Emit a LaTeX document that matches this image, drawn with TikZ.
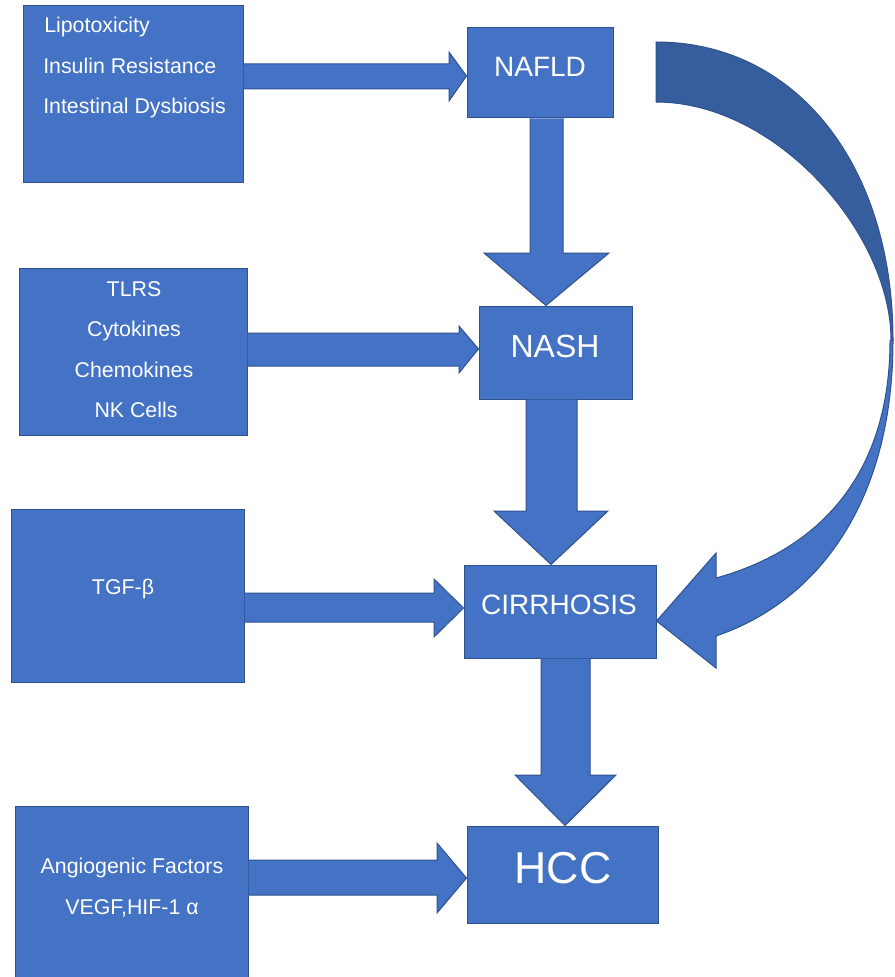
\documentclass[tikz,border=0pt]{standalone}
\usepackage{fontspec}
\setmainfont{Liberation Sans}
\usetikzlibrary{fit}
\definecolor{boxblue}{HTML}{4472C4}
\definecolor{edgeblue}{HTML}{2F528F}
\definecolor{backblue}{HTML}{365E9E}
\tikzset{
  box/.style={draw=edgeblue, fill=boxblue, line width=0.75pt, inner sep=0pt, rectangle},
  barrow/.style={draw=edgeblue, fill=boxblue, line width=0.75pt, line join=miter},
  lbl/.style={text=white, inner sep=0pt, anchor=base, font=\fontsize{16}{19}\selectfont},
  big/.style={text=white, inner sep=0pt, anchor=base},
}
\begin{document}
\begin{tikzpicture}[x=0.75pt,y=-0.75pt]
\clip (0,0) rectangle (894,977);
% boxes (named)
\node[box, fit={(23,6) (243,182)}] (b1) {};
\node[box, fit={(467,28) (613,118)}] (nafld) {};
\node[box, fit={(19,268) (247,435)}] (b2) {};
\node[box, fit={(479,306) (632,399)}] (nash) {};
\node[box, fit={(11,509) (244,682)}] (b3) {};
\node[box, fit={(464,565) (656,658)}] (cirr) {};
\node[box, fit={(15,806) (248,990)}] (b4) {};
\node[box, fit={(467,826) (658,923)}] (hcc) {};
% horizontal block arrows
\draw[barrow] (b1.east |- 0,64) -- (449,64) -- (449,52) -- (nafld.west |- 0,76) -- (449,101) -- (449,89) -- (b1.east |- 0,89);
\draw[barrow] (b2.east |- 0,333) -- (459,333) -- (459,326) -- (nash.west |- 0,349) -- (459,373) -- (459,366) -- (b2.east |- 0,366);
\draw[barrow] (b3.east |- 0,593) -- (434,593) -- (434,579) -- (cirr.west |- 0,608) -- (434,637) -- (434,622) -- (b3.east |- 0,622);
\draw[barrow] (b4.east |- 0,860) -- (437,860) -- (437,843) -- (hcc.west |- 0,878) -- (437,913) -- (437,895) -- (b4.east |- 0,895);
% vertical block arrows
\draw[barrow] (530,0 |- nafld.south) -- (530,253) -- (484,253) -- (546,0 |- nash.north) -- (609,253) -- (563,253) -- (563,0 |- nafld.south);
\draw[barrow] (526,0 |- nash.south) -- (526,511) -- (494,511) -- (551,0 |- cirr.north) -- (608,511) -- (577,511) -- (577,0 |- nash.south);
\draw[barrow] (541,0 |- cirr.south) -- (541,775) -- (515,775) -- (565,0 |- hcc.north) -- (616,775) -- (590,775) -- (590,0 |- cirr.south);
% curved arrow: back (dark) part
\filldraw[draw=edgeblue, fill=backblue, line width=0.75pt]
  (656,42) .. controls (796,42) and (893,165) .. (893,340)
  -- (891,340) .. controls (891,233) and (776,102) .. (656,102) -- cycle;
% curved arrow: front (light) part with head
\coordinate (ctip) at (cirr.east |- 0,621);
\filldraw[draw=edgeblue, fill=boxblue, line width=0.75pt, line join=miter]
  (893,340) .. controls (893,510) and (811,604) .. (716,636)
  -- (716,668) -- (ctip) -- (716,553) -- (716,578)
  .. controls (803,554) and (890,490) .. (890,340) -- cycle;
% texts
\node[lbl, anchor=base west] (t1a) at (44,33) {Lipotoxicity};
\node[lbl, anchor=base west] (t1b) at (43,74) {Insulin Resistance};
\node[lbl, anchor=base west] (t1c) at (43,114) {Intestinal Dysbiosis};
\node[lbl] (t2a) at (134,296) {TLRS};
\node[lbl] (t2b) at (134,336) {Cytokines};
\node[lbl] (t2c) at (134,377) {Chemokines};
\node[lbl] (t2d) at (136,417) {NK Cells};
\node[lbl] (t3) at (123,594) {TGF-β};
\node[lbl] (t4a) at (132,873) {Angiogenic Factors};
\node[lbl] (t4b) at (132,914) {VEGF,HIF-1 α};
\node[big, font=\fontsize{21}{25}\selectfont] (tnafld) at (540,77) {NAFLD};
\node[big, font=\fontsize{24}{28}\selectfont] (tnash) at (555,357) {NASH};
\node[big, font=\fontsize{21}{25}\selectfont] (tcirr) at (559,614) {CIRRHOSIS};
\node[big, font=\fontsize{33.5}{38}\selectfont] (thcc) at (563,883) {HCC};
\end{tikzpicture}
\end{document}
